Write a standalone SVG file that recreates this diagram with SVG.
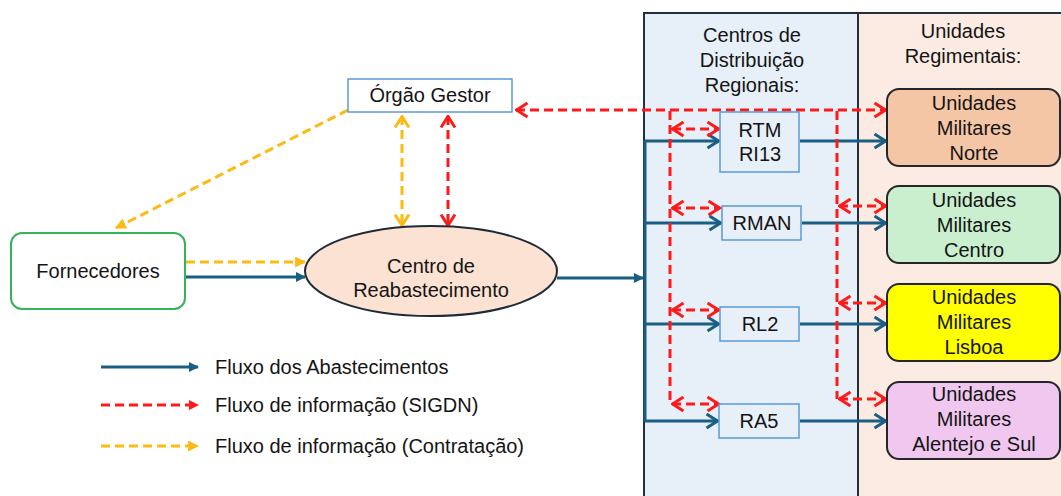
<svg xmlns="http://www.w3.org/2000/svg" width="1061" height="496" viewBox="0 0 1061 496">
  <style>
    text { font-family: "Liberation Sans", Arial, sans-serif; font-size: 20px; fill: #141414; text-anchor: middle; }
    .lg { text-anchor: start; }
    .panel { stroke: #22303e; stroke-width: 2; }
    .cd { fill: #e7eff9; stroke: #5b9bd5; stroke-width: 1.5; }
    .unit { stroke: #26262a; stroke-width: 2; }
    .supply { fill: none; stroke: #1b5e83; stroke-width: 3; }
    .sigdn { fill: none; stroke: #ff1a1a; stroke-width: 3; stroke-dasharray: 9 5; }
    .contract { fill: none; stroke: #fdba12; stroke-width: 3; stroke-dasharray: 9 5; }
  </style>
  <defs>
    <marker id="chevBlue" viewBox="0 0 15 17" refX="13.5" refY="8.5" markerWidth="15" markerHeight="17" markerUnits="userSpaceOnUse" orient="auto-start-reverse">
      <path d="M2,1.5 L13,8.5 L2,15.5" fill="none" stroke="#1b5e83" stroke-width="3" stroke-dasharray="none"/>
    </marker>
    <marker id="chevRed" viewBox="0 0 15 17" refX="13.5" refY="8.5" markerWidth="15" markerHeight="17" markerUnits="userSpaceOnUse" orient="auto-start-reverse">
      <path d="M2,1.5 L13,8.5 L2,15.5" fill="none" stroke="#ff1a1a" stroke-width="3" stroke-dasharray="none"/>
    </marker>
    <marker id="chevYellow" viewBox="0 0 15 17" refX="13.5" refY="8.5" markerWidth="15" markerHeight="17" markerUnits="userSpaceOnUse" orient="auto-start-reverse">
      <path d="M2,1.5 L13,8.5 L2,15.5" fill="none" stroke="#fdba12" stroke-width="3" stroke-dasharray="none"/>
    </marker>
    <marker id="triBlue" viewBox="0 0 10 10" refX="9" refY="5" markerWidth="10" markerHeight="10" markerUnits="userSpaceOnUse" orient="auto">
      <path d="M0,0 L10,5 L0,10 z" fill="#1b5e83"/>
    </marker>
    <marker id="triRed" viewBox="0 0 10 10" refX="9" refY="5" markerWidth="10" markerHeight="10" markerUnits="userSpaceOnUse" orient="auto">
      <path d="M0,0 L10,5 L0,10 z" fill="#ff1a1a"/>
    </marker>
    <marker id="triYellow" viewBox="0 0 10 10" refX="9" refY="5" markerWidth="11" markerHeight="11" markerUnits="userSpaceOnUse" orient="auto">
      <path d="M0,0 L10,5 L0,10 z" fill="#fdba12"/>
    </marker>
  </defs>

  <rect width="1061" height="496" fill="#ffffff"/>

  <!-- Column panels -->
  <g id="panel-centros">
    <rect class="panel" x="644" y="13" width="214" height="500" fill="#e7eff9"/>
    <text x="752" y="42">Centros de</text>
    <text x="752" y="67">Distribuição</text>
    <text x="752" y="92">Regionais:</text>
  </g>
  <g id="panel-unidades">
    <rect class="panel" x="858" y="13" width="215" height="500" fill="#fcebe2"/>
    <text x="963" y="38">Unidades</text>
    <text x="963" y="63">Regimentais:</text>
  </g>

  <!-- Connectors -->
  <g id="connectors">
    <!-- supply flow -->
    <line class="supply" x1="186" y1="277" x2="305" y2="277" marker-end="url(#triBlue)"/>
    <line class="supply" x1="557" y1="278" x2="643" y2="278" marker-end="url(#triBlue)"/>
    <line class="supply" x1="645" y1="140" x2="645" y2="422"/>
    <line class="supply" x1="645" y1="141" x2="719" y2="141" marker-end="url(#chevBlue)"/>
    <line class="supply" x1="645" y1="223" x2="721" y2="223" marker-end="url(#chevBlue)"/>
    <line class="supply" x1="645" y1="324" x2="719" y2="324" marker-end="url(#chevBlue)"/>
    <line class="supply" x1="645" y1="421" x2="718" y2="421" marker-end="url(#chevBlue)"/>
    <line class="supply" x1="800" y1="141" x2="886" y2="141" marker-end="url(#chevBlue)"/>
    <line class="supply" x1="802" y1="223" x2="886" y2="223" marker-end="url(#chevBlue)"/>
    <line class="supply" x1="800" y1="324" x2="886" y2="324" marker-end="url(#chevBlue)"/>
    <line class="supply" x1="800" y1="421" x2="886" y2="421" marker-end="url(#chevBlue)"/>

    <!-- contracting information -->
    <line class="contract" x1="186" y1="262" x2="305" y2="262" marker-end="url(#triYellow)"/>
    <line class="contract" x1="348" y1="110" x2="116" y2="228" marker-end="url(#triYellow)"/>
    <line class="contract" x1="402" y1="116" x2="402" y2="226" marker-start="url(#chevYellow)" marker-end="url(#chevYellow)"/>

    <!-- SIGDN information -->
    <line class="sigdn" x1="448" y1="116" x2="448" y2="226" marker-start="url(#chevRed)" marker-end="url(#chevRed)"/>
    <line class="sigdn" x1="516" y1="110" x2="886" y2="110" marker-start="url(#chevRed)" marker-end="url(#chevRed)"/>
    <line class="sigdn" x1="670" y1="111" x2="670" y2="404"/>
    <line class="sigdn" x1="837" y1="111" x2="837" y2="399"/>
    <line class="sigdn" x1="672" y1="129" x2="719" y2="129" marker-start="url(#chevRed)" marker-end="url(#chevRed)"/>
    <line class="sigdn" x1="672" y1="208" x2="720" y2="208" marker-start="url(#chevRed)" marker-end="url(#chevRed)"/>
    <line class="sigdn" x1="672" y1="310" x2="719" y2="310" marker-start="url(#chevRed)" marker-end="url(#chevRed)"/>
    <line class="sigdn" x1="672" y1="404" x2="719" y2="404" marker-start="url(#chevRed)" marker-end="url(#chevRed)"/>
    <line class="sigdn" x1="839" y1="206" x2="886" y2="206" marker-start="url(#chevRed)" marker-end="url(#chevRed)"/>
    <line class="sigdn" x1="839" y1="303" x2="886" y2="303" marker-start="url(#chevRed)" marker-end="url(#chevRed)"/>
    <line class="sigdn" x1="839" y1="399" x2="886" y2="399" marker-start="url(#chevRed)" marker-end="url(#chevRed)"/>
  </g>

  <!-- Nodes -->
  <g id="orgao-gestor">
    <rect x="348" y="79" width="164" height="33" fill="#ffffff" stroke="#5b9bd5" stroke-width="1.5"/>
    <text x="430" y="102">Órgão Gestor</text>
  </g>
  <g id="fornecedores">
    <rect x="11" y="233" width="174" height="76" rx="11" fill="#ffffff" stroke="#33b35a" stroke-width="2"/>
    <text x="98" y="278">Fornecedores</text>
  </g>
  <g id="centro-reabastecimento">
    <ellipse cx="431" cy="271" rx="126" ry="45" fill="#fbe2d3" stroke="#1e2a36" stroke-width="2"/>
    <text x="431" y="273">Centro de</text>
    <text x="431" y="297">Reabastecimento</text>
  </g>

  <g id="cd-rtm-ri13">
    <rect class="cd" x="720" y="112" width="79" height="60"/>
    <text x="760" y="137">RTM</text>
    <text x="760" y="161">RI13</text>
  </g>
  <g id="cd-rman">
    <rect class="cd" x="722" y="206" width="79" height="34"/>
    <text x="762" y="230">RMAN</text>
  </g>
  <g id="cd-rl2">
    <rect class="cd" x="720" y="307" width="79" height="34"/>
    <text x="760" y="331">RL2</text>
  </g>
  <g id="cd-ra5">
    <rect class="cd" x="719" y="404" width="80" height="34"/>
    <text x="759" y="428">RA5</text>
  </g>

  <g id="um-norte">
    <rect class="unit" x="887" y="89" width="173" height="77" rx="12" fill="#f5c6a6"/>
    <text x="974" y="110">Unidades</text>
    <text x="974" y="135">Militares</text>
    <text x="974" y="160">Norte</text>
  </g>
  <g id="um-centro">
    <rect class="unit" x="887" y="186" width="173" height="77" rx="12" fill="#c9efcf"/>
    <text x="974" y="207">Unidades</text>
    <text x="974" y="232">Militares</text>
    <text x="974" y="257">Centro</text>
  </g>
  <g id="um-lisboa">
    <rect class="unit" x="887" y="284" width="173" height="77" rx="12" fill="#ffff00"/>
    <text x="974" y="304">Unidades</text>
    <text x="974" y="329">Militares</text>
    <text x="974" y="354">Lisboa</text>
  </g>
  <g id="um-alentejo-sul">
    <rect class="unit" x="887" y="382" width="173" height="77" rx="12" fill="#f0c8ef"/>
    <text x="974" y="401">Unidades</text>
    <text x="974" y="426">Militares</text>
    <text x="974" y="451">Alentejo e Sul</text>
  </g>

  <!-- Legend -->
  <g id="legend">
    <line class="supply" x1="101" y1="367" x2="198" y2="367" marker-end="url(#triBlue)"/>
    <text class="lg" x="215" y="374">Fluxo dos Abastecimentos</text>
    <line class="sigdn" x1="101" y1="405" x2="198" y2="405" stroke-dasharray="10 5" marker-end="url(#triRed)"/>
    <text class="lg" x="215" y="412">Fluxo de informação (SIGDN)</text>
    <line class="contract" x1="101" y1="446" x2="198" y2="446" stroke-dasharray="10 5" marker-end="url(#triYellow)"/>
    <text class="lg" x="215" y="453">Fluxo de informação (Contratação)</text>
  </g>
</svg>
